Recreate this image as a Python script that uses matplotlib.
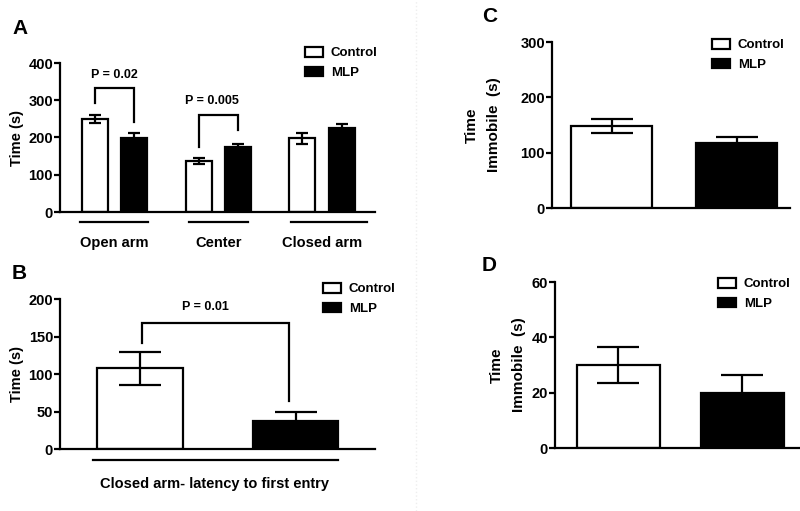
import matplotlib.pyplot as plt
from matplotlib.patches import Patch
import numpy as np

plt.rcParams.update({
    'font.family': ['Liberation Sans', 'DejaVu Sans'],
    'font.weight': 'bold',
    'font.size': 10,
    'axes.linewidth': 1.6,
    'xtick.major.width': 1.6,
    'ytick.major.width': 1.6,
})

# Panel A: elevated plus maze, time in each zone
zones = ['Open arm', 'Center', 'Closed arm']
a_control = [250, 138, 198]
a_control_err = [10, 8, 15]
a_mlp = [198, 175, 225]
a_mlp_err = [15, 8, 12]

# Panel B: latency to first closed-arm entry
b_label = 'Closed arm- latency to first entry'
b_control, b_control_err = 108, 22
b_mlp, b_mlp_err = 38, 11

# Panel C / D: time immobile
c_control, c_control_err = 148, 12
c_mlp, c_mlp_err = 118, 11
d_control, d_control_err = 30, 6.5
d_mlp, d_mlp_err = 20, 6.5

groups = ['Control', 'MLP']
W, H = 800, 511


def axes_px(x0, x1, y_top, y_bottom):
    return fig.add_axes([x0 / W, 1 - y_bottom / H, (x1 - x0) / W, (y_bottom - y_top) / H])


def style(ax, ymax, step):
    ax.spines['top'].set_visible(False)
    ax.spines['right'].set_visible(False)
    ax.set_ylim(0, ymax)
    ax.set_yticks(np.arange(0, ymax + 1, step))
    ax.tick_params(axis='y', direction='out', length=4, labelsize=10.5, pad=1)
    ax.tick_params(axis='x', length=0)
    for t in ax.get_yticklabels():
        t.set_fontweight('bold')


def legend(ax, x, y):
    handles = [Patch(facecolor='white', edgecolor='black', linewidth=1.6, label=groups[0]),
               Patch(facecolor='black', edgecolor='black', linewidth=1.6, label=groups[1])]
    ax.legend(handles=handles, loc='upper left', bbox_to_anchor=(x / W, 1 - y / H),
              bbox_transform=fig.transFigure, frameon=False, borderpad=0, borderaxespad=0,
              handlelength=1.35, handleheight=0.75, handletextpad=0.6, labelspacing=0.55,
              prop={'weight': 'bold', 'size': 9.5})


def bracket(ax, x0, x1, y_left, y_right, y_top, text, tx, ty, size=9):
    ax.plot([x0, x0, x1, x1], [y_left, y_top, y_top, y_right], color='black', lw=1.6,
            clip_on=False, solid_joinstyle='miter')
    ax.text(tx, ty, text, ha='center', va='center', fontsize=size, fontweight='bold')


fig = plt.figure(figsize=(8, 5.11), dpi=100)
fig.patches.append(plt.Line2D([416 / W, 416 / W], [0, 1], transform=fig.transFigure,
                              color='#eeeeee', lw=1, ls=':'))
bar_kw = dict(edgecolor='black', linewidth=1.6, zorder=2)
err_kw = dict(fmt='none', ecolor='black', elinewidth=1.6, capthick=1.6, zorder=3)

# ---- A ----
ax = axes_px(60, 375, 63, 212)
x = np.arange(len(zones))
off, bw = 0.19, 0.25
ax.bar(x - off, a_control, bw, color='white', **bar_kw)
ax.bar(x + off, a_mlp, bw, color='black', **bar_kw)
ax.errorbar(x - off, a_control, yerr=a_control_err, capsize=4.5, **err_kw)
ax.errorbar(x + off, a_mlp, yerr=a_mlp_err, capsize=4.5, **err_kw)
ax.set_xlim(-0.525, 2.51)
style(ax, 400, 100)
ax.set_xticks(x, zones)
ax.tick_params(axis='x', pad=17, labelsize=10.5)
for t in ax.get_xticklabels():
    t.set_fontweight('bold')
for (l, r) in [(-0.33, 0.32), (0.72, 1.29), (1.7, 2.43)]:
    ax.plot([l, r], [-27, -27], color='black', lw=1.6, clip_on=False)
ax.set_ylabel('Time (s)', fontsize=10.5, fontweight='bold', labelpad=3)
bracket(ax, -off, off, 292, 241, 333, 'P = 0.02', 0, 367)
bracket(ax, 1 - off, 1 + off, 174, 220, 260, 'P = 0.005', 0.94, 297)
legend(ax, 305, 47)
fig.text(12 / W, 1 - 28 / H, 'A', fontsize=15, fontweight='bold', va='center')

# ---- B ----
ax = axes_px(60, 375, 299, 449)
ax.bar([0, 1], [b_control, b_mlp], 0.55, color=['white', 'black'], **bar_kw)
ax.errorbar([0, 1], [b_control, b_mlp], yerr=[b_control_err, b_mlp_err], capsize=15, **err_kw)
ax.set_xlim(-0.514, 1.51)
style(ax, 200, 50)
ax.set_xticks([0.48], [b_label])
ax.tick_params(axis='x', pad=20, labelsize=10.5)
for t in ax.get_xticklabels():
    t.set_fontweight('bold')
ax.plot([-0.30, 1.27], [-14.7, -14.7], color='black', lw=1.6, clip_on=False)
ax.set_ylabel('Time (s)', fontsize=10.5, fontweight='bold', labelpad=3)
bracket(ax, 0.01, 0.96, 141, 64, 168, 'P = 0.01', 0.42, 189)
legend(ax, 323, 283)
fig.text(12 / W, 1 - 273 / H, 'B', fontsize=15, fontweight='bold', va='center')

# ---- C ----
ax = axes_px(552, 790, 42, 208)
ax.bar([0, 1], [c_control, c_mlp], 0.65, color=['white', 'black'], **bar_kw)
ax.errorbar([0, 1], [c_control, c_mlp], yerr=[c_control_err, c_mlp_err], capsize=15, **err_kw)
ax.set_xlim(-0.476, 1.428)
style(ax, 300, 100)
ax.set_xticks([])
ax.set_ylabel('Time\nImmobile  (s)', fontsize=11, fontweight='bold', labelpad=14,
              linespacing=1.7)
legend(ax, 712, 39)
fig.text(482 / W, 1 - 17 / H, 'C', fontsize=15, fontweight='bold', va='center')

# ---- D ----
ax = axes_px(555, 800, 282, 448)
ax.bar([0, 1], [d_control, d_mlp], 0.67, color=['white', 'black'], **bar_kw)
ax.errorbar([0, 1], [d_control, d_mlp], yerr=[d_control_err, d_mlp_err], capsize=15, **err_kw)
ax.set_xlim(-0.512, 1.464)
style(ax, 60, 20)
ax.set_xticks([])
ax.set_ylabel('Time\nImmobile  (s)', fontsize=11, fontweight='bold', labelpad=4,
              linespacing=1.7)
legend(ax, 718, 278)
fig.text(482 / W, 1 - 265 / H, 'D', fontsize=15, fontweight='bold', va='center')

fig.savefig('out.png', dpi=100)
